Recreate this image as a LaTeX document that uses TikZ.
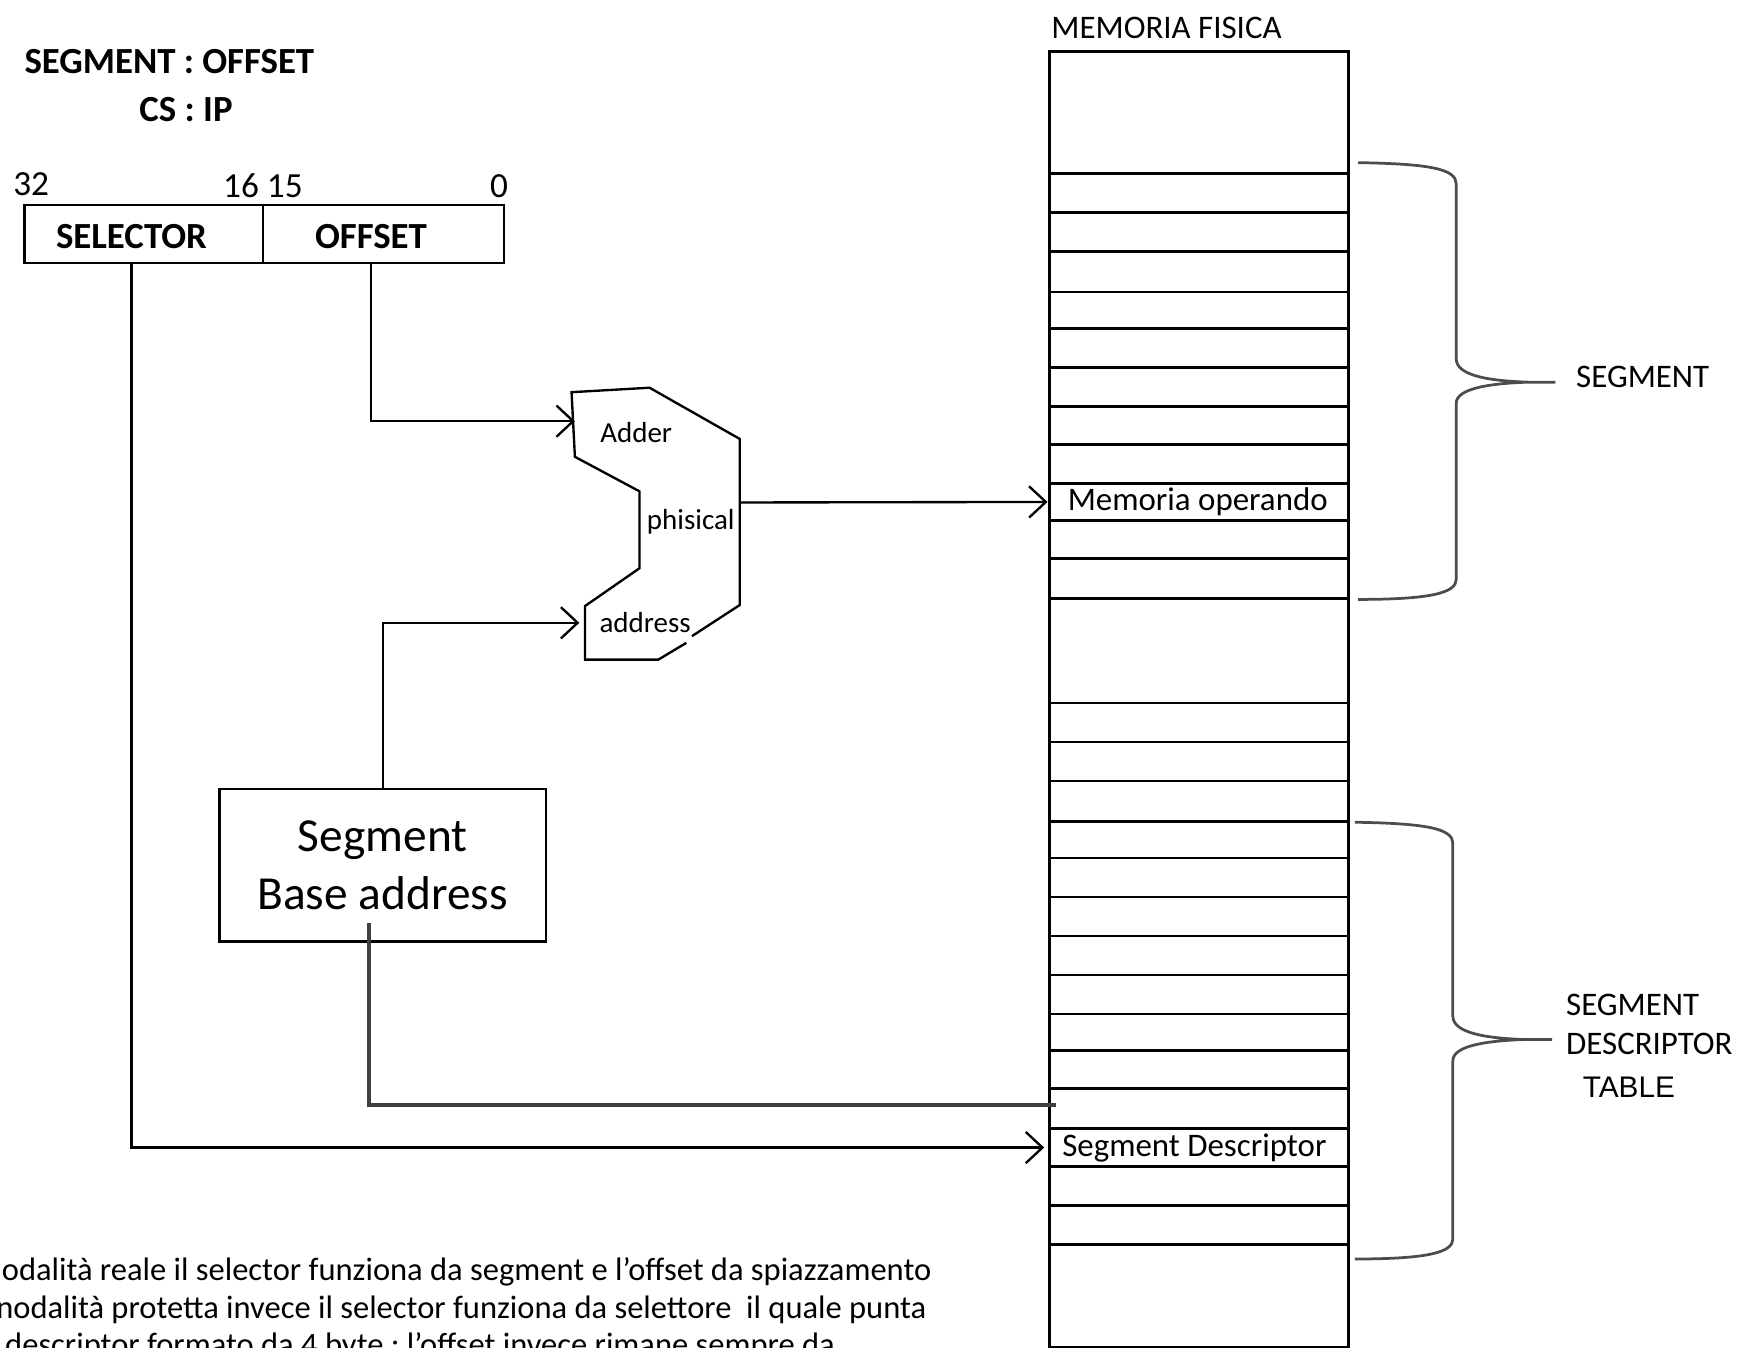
\documentclass[tikz,border=0pt]{standalone}
\usepackage{fontspec}
\setmainfont{Carlito}
\newfontfamily\arialfont{Liberation Sans}
\usetikzlibrary{arrows.meta}

\tikzset{
  wire/.style={line width=0.6pt},
  arrowwire/.style={wire,-{Straight Barb[length=1.5mm,width=2.8mm]}},
  regbox/.style={draw,line width=0.6pt,minimum height=0.52cm,inner sep=0pt,anchor=north west},
  headtxt/.style={font=\fontsize{9.4}{11}\selectfont\bfseries,inner sep=0pt},
  bittxt/.style={font=\fontsize{9}{11}\selectfont,inner sep=0pt},
  addtxt/.style={font=\fontsize{7.4}{9}\selectfont,inner sep=0pt},
  memtxt/.style={font=\fontsize{8.4}{10}\selectfont,inner sep=0pt},
  celltxt/.style={minimum width=2.68cm,minimum height=0.34cm,inner sep=0pt,font=\fontsize{8.4}{10}\selectfont},
  notetxt/.style={font=\fontsize{8.3}{10}\selectfont,inner sep=0pt,anchor=base west},
  bracepath/.style={line width=0.7pt,draw=black!70},
}

\begin{document}
\begin{tikzpicture}[x=0.01cm,y=-0.01cm]
        \useasboundingbox (0,0) rectangle (1568,1209);
        \clip (0,0) rectangle (1568,1209);

        \node[headtxt] (segoff) at (152,55) {SEGMENT : OFFSET};
        \node[headtxt] (csip) at (167,98) {CS : IP};

        \node[bittxt] (b32) at (28,165) {32};
        \node[bittxt] (b1615) at (236,167) {16 15};
        \node[bittxt] (b0) at (448,167) {0};

        \node[regbox,minimum width=2.14cm] (sel) at (21,183) {};
        \node[regbox,minimum width=2.16cm] (off) at (235,183) {};
        \node[headtxt] (seltxt) at (118,212) {SELECTOR};
        \node[headtxt] (offtxt) at (333,212) {OFFSET};

        \coordinate (addin1) at (516,378);
        \coordinate (addin2) at (520,559);
        \coordinate (addout) at (664,451);
        \draw[wire] (616,577) -- (591,592) -- (525,592) -- (525,544) -- (574,510) -- (574,441) -- (516,410) -- (513,352) -- (583,348) -- (664,394) -- (664,543) -- (621,571);
        \node[addtxt] (addlbl) at (571,388) {Adder};
        \node[addtxt] (phislbl) at (620,468) {phisical};
        \node[addtxt] (addrlbl) at (579,559) {address};

        \node[draw,line width=0.6pt,minimum width=2.93cm,minimum height=1.37cm,align=center,font=\fontsize{12.1}{14.8}\selectfont] (segbase) at (343.5,776.5) {Segment\\Base address};

        \node[draw,line width=0.7pt,minimum width=2.68cm,minimum height=11.62cm,inner sep=0pt,anchor=north west] (mem) at (941,45) {};
        \node[memtxt,anchor=west] (memlbl) at (943,25) {MEMORIA FISICA};
        \foreach \y in {156,191,226,262,295,330,365,399,434,467,501,537,631,666,701,737,770,805,840,875,910,943,977,1013,1047,1082,1117}
          \draw[line width=0.7pt] (941,\y) -- (1209,\y);
        \node[celltxt] (memop) at (1075,450.5) {Memoria operando};
        \node[celltxt] (segdesc) at (1072,1030) {Segment Descriptor};
        \coordinate (tabout) at (948,992);
        \coordinate (sbin) at (331,828);

        \draw[arrowwire] (offtxt |- off.south) |- (addin1);
        \draw[arrowwire] (segbase.north) |- (addin2);
        \draw[arrowwire] (addout) -- (memop.west);
        \draw[arrowwire] (seltxt |- sel.south) |- (segdesc.west);
        \draw[line width=0.9pt,black!75] (tabout) -| (sbin);

        \draw[bracepath] (1219,146) .. controls (1285,147) and (1307,152) .. (1307,165) -- (1307,322) .. controls (1307,338) and (1340,342) .. (1372,343) -- (1396,343) -- (1372,343) .. controls (1340,344) and (1307,348) .. (1307,362) -- (1307,520) .. controls (1307,532) and (1285,538) .. (1219,538);
        \draw[bracepath] (1216,738) .. controls (1282,739) and (1304,744) .. (1304,757) -- (1304,912) .. controls (1304,928) and (1337,932) .. (1369,933) -- (1393,933) -- (1369,933) .. controls (1337,934) and (1304,938) .. (1304,952) -- (1304,1112) .. controls (1304,1124) and (1282,1130) .. (1216,1130);

        \node[memtxt,anchor=west] (seglbl) at (1414,338) {SEGMENT};
        \node[memtxt,anchor=west] (sdlbl1) at (1405,902) {SEGMENT};
        \node[memtxt,anchor=west] (sdlbl2) at (1405,937) {DESCRIPTOR};
        \node[anchor=west,inner sep=0pt,font=\arialfont\fontsize{7.6}{9}\selectfont] (sdlbl3) at (1420,976) {TABLE};

        \node[notetxt] (note1) at (1,1149) {odalità reale il selector funziona da segment e l’offset da spiazzamento};
        \node[notetxt] (note2) at (-4,1183) {nodalità protetta invece il selector funziona da selettore~ il quale punta};
        \node[notetxt] (note3) at (4,1217) {descriptor formato da 4 byte ; l’offset invece rimane sempre da};
      \end{tikzpicture}
\end{document}
